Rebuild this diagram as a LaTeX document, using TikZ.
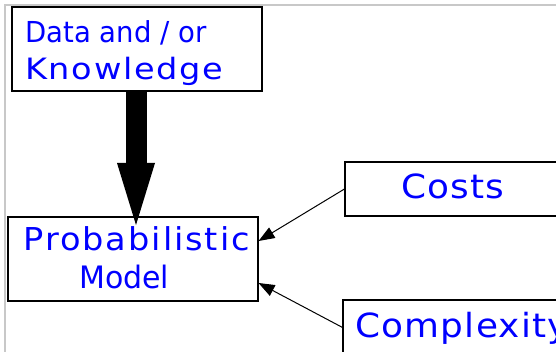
\documentclass[tikz,border=0pt]{standalone}
\usepackage{fontspec}
\usetikzlibrary{arrows.meta}
\newfontfamily\dvsans{DejaVu Sans}
\newfontfamily\dvknow{DejaVu Sans}[LetterSpace=5]
\newfontfamily\dvprob{DejaVu Sans}[LetterSpace=5.7]
\newfontfamily\dvcost{DejaVu Sans}[LetterSpace=3.5]
\definecolor{txtblue}{RGB}{0,0,255}
\definecolor{framegray}{RGB}{200,200,200}
\tikzset{
  box/.style={draw=black, line width=1.1pt, rectangle, inner sep=0pt},
  lbl/.style={inner sep=0pt, anchor=base west, text=txtblue},
  feed/.style={draw=black, line width=1pt, -{Triangle[length=16pt, width=12pt]}},
  bigarrow/.style={draw=black, line width=21pt,
    -{Triangle[line width=0pt, length=62pt, width=38pt]}}
}
\begin{document}
\begin{tikzpicture}[x=1pt, y=-1pt]
  \useasboundingbox (0,0) rectangle (556,352);
  \clip (0,0) rectangle (556,352);
  % page frame
  \draw[framegray, line width=1.2pt] (5,352) -- (5,5) -- (556,5);

  % boxes
  \node[box, minimum width=250pt, minimum height=84pt] (data) at (137,49) {};
  \node[box, minimum width=250pt, minimum height=84pt] (prob) at (133,259) {};
  \node[box, minimum width=225pt, minimum height=54pt] (costs) at (457.5,189) {};
  \node[box, minimum width=227pt, minimum height=60pt] (cplx) at (456.5,330) {};

  % labels
  \node[lbl, font=\dvsans\fontsize{27.5}{30}\selectfont] (t1) at (25.3,43) {\scalebox{1}[1.05]{Data and / or}};
  \node[lbl, font=\dvknow\fontsize{28}{30}\selectfont] (t2) at (25,80) {\scalebox{1.2}[1.05]{Knowledge}};
  \node[lbl, font=\dvprob\fontsize{30}{32}\selectfont] (t3) at (23.5,251) {\scalebox{1.12}[1.05]{Probabilistic}};
  \node[lbl, font=\dvsans\fontsize{30}{32}\selectfont] (t4) at (79,288) {\scalebox{1}[1.03]{Model}};
  \node[lbl, font=\dvcost\fontsize{32}{34}\selectfont] (t5) at (401,199) {\scalebox{1.12}[1.04]{Costs}};
  \node[lbl, font=\dvcost\fontsize{32}{34}\selectfont] (t6) at (355,337) {\scalebox{1.12}[1.04]{Complexity}};

  % connectors
  \coordinate (tip) at (136,225);
  \draw[bigarrow] (data.south -| tip) -- (tip);
  \draw[feed] (costs.west) -- ([yshift=18pt]prob.east);
  \draw[feed] ([yshift=-28pt]cplx.north west) -- ([yshift=-24pt]prob.east);
\end{tikzpicture}
\end{document}
